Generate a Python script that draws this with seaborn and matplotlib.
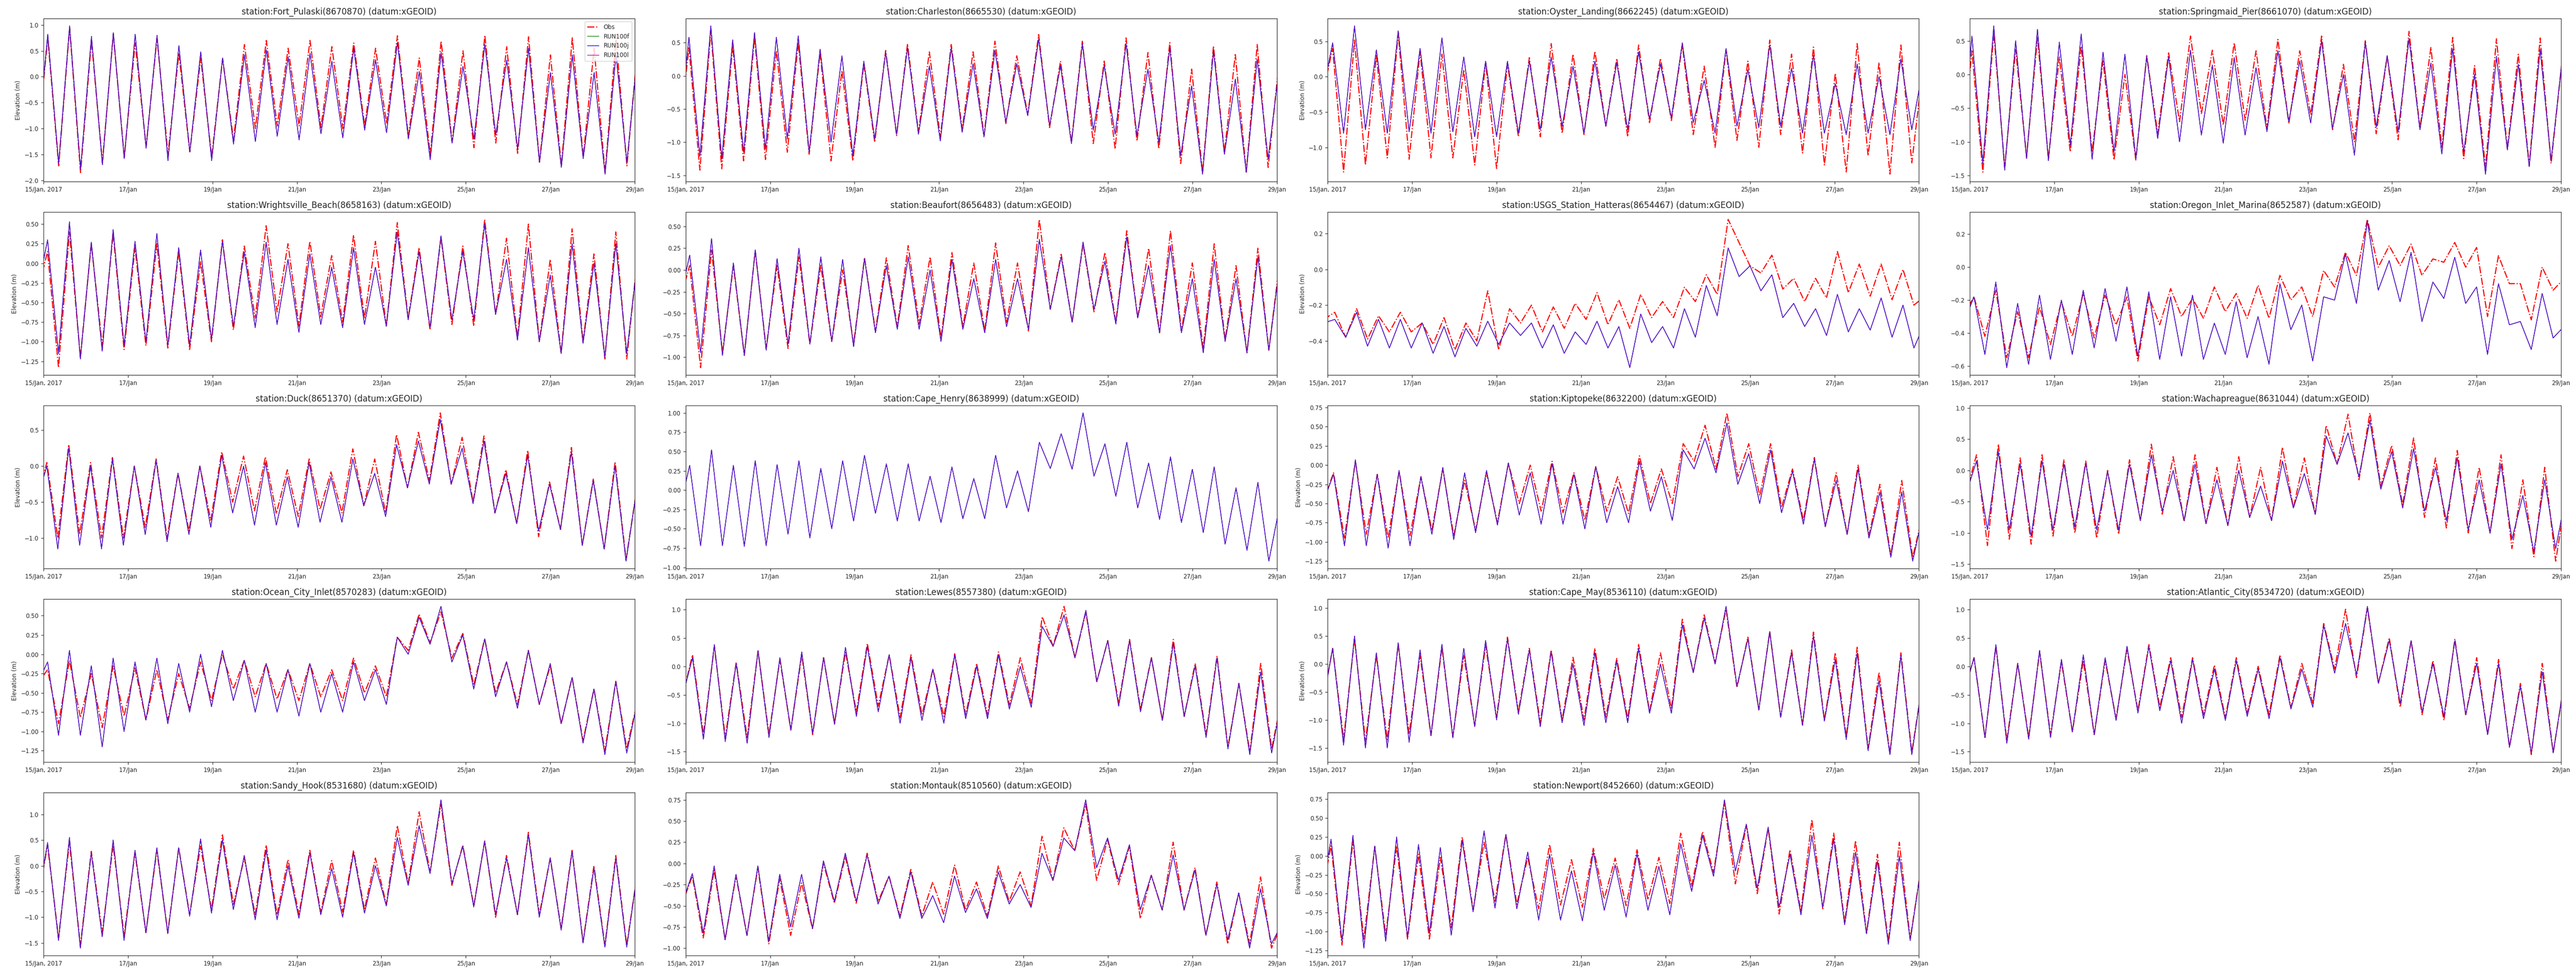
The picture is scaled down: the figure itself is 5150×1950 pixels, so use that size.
import numpy as np
import pandas as pd
import matplotlib
matplotlib.use("Agg")
import matplotlib.pyplot as plt
import seaborn as sns

# Tide gauge comparison, 15-29 Jan 2017.
# Each series is stored as its successive tidal extremes (low, high, low, high ...),
# one value every half tidal cycle, starting with the low just before the first high.

stations = ["Fort_Pulaski", "Charleston", "Oyster_Landing", "Springmaid_Pier",
            "Wrightsville_Beach", "Beaufort", "USGS_Station_Hatteras", "Oregon_Inlet_Marina",
            "Duck", "Cape_Henry", "Kiptopeke", "Wachapreague",
            "Ocean_City_Inlet", "Lewes", "Cape_May", "Atlantic_City",
            "Sandy_Hook", "Montauk", "Newport"]
station_ids = ["8670870", "8665530", "8662245", "8661070",
               "8658163", "8656483", "8654467", "8652587",
               "8651370", "8638999", "8632200", "8631044",
               "8570283", "8557380", "8536110", "8534720",
               "8531680", "8510560", "8452660"]
# hour (after 15/Jan 00:00) of the first high water in each panel
first_high = [2.4, 1.9, 2.8, 1.2, 2.3, 2.3, 4.0, 2.35, 1.9, 2.3,
              3.3, 3.8, 2.3, 3.9, 2.8, 2.4, 2.3, 3.8, 1.9]
HALF_TIDE = 6.21  # hours between a low and the next high

tick_labels = ["15/Jan, 2017", "17/Jan", "19/Jan", "21/Jan", "23/Jan", "25/Jan", "27/Jan", "29/Jan"]
legend_names = ["Obs", "RUN100f", "RUN100j", "RUN100l"]

fort_pulaski_obs = [-1.40, 0.75, -1.72, 0.95, -1.85, 0.70, -1.65, 0.82, -1.55, 0.65, -1.35, 0.75, -1.50, 0.45,
                    -1.45, 0.36, -1.55, 0.35, -1.22, 0.62, -1.00, 0.70, -0.95, 0.55, -0.95, 0.70, -0.98, 0.58,
                    -1.00, 0.65, -0.95, 0.55, -0.90, 0.79, -1.15, 0.36, -1.50, 0.69, -1.25, 0.50, -1.37, 0.80,
                    -1.28, 0.58, -1.48, 0.77, -1.65, 0.42, -1.72, 0.75, -1.55, 0.55, -1.85, 0.72, -1.72, 0.60]
fort_pulaski_run = [-1.40, 0.82, -1.68, 0.98, -1.78, 0.78, -1.70, 0.85, -1.58, 0.82, -1.38, 0.80, -1.62, 0.60,
                    -1.45, 0.48, -1.62, 0.36, -1.30, 0.42, -1.25, 0.52, -1.15, 0.38, -1.22, 0.45, -1.10, 0.30,
                    -1.18, 0.55, -1.03, 0.33, -1.08, 0.66, -1.20, 0.10, -1.60, 0.47, -1.28, 0.20, -1.20, 0.62,
                    -1.12, 0.32, -1.40, 0.55, -1.65, 0.08, -1.75, 0.42, -1.58, 0.08, -1.88, 0.43, -1.65, 0.50]

charleston_obs = [-1.00, 0.42, -1.42, 0.68, -1.40, 0.45, -1.28, 0.58, -1.26, 0.38, -1.15, 0.50, -1.18, 0.35,
                  -1.28, 0.08, -1.28, 0.18, -1.00, 0.38, -0.90, 0.48, -0.85, 0.36, -0.92, 0.47, -0.80, 0.36,
                  -0.90, 0.52, -0.72, 0.30, -0.58, 0.62, -0.78, 0.22, -1.00, 0.52, -1.02, 0.22, -1.10, 0.57,
                  -0.98, 0.35, -1.10, 0.50, -1.32, 0.10, -1.45, 0.45, -1.15, 0.32, -1.45, 0.47, -1.38, 0.20]
charleston_run = [-1.00, 0.58, -1.21, 0.75, -1.25, 0.54, -1.15, 0.65, -1.10, 0.58, -0.95, 0.60, -1.15, 0.40,
                  -1.00, 0.30, -1.20, 0.22, -0.95, 0.35, -0.88, 0.42, -0.88, 0.15, -0.98, 0.42, -0.85, 0.18,
                  -0.92, 0.38, -0.70, 0.18, -0.60, 0.55, -0.75, 0.15, -1.02, 0.48, -0.82, 0.15, -0.88, 0.48,
                  -0.90, 0.10, -1.00, 0.42, -1.20, -0.15, -1.48, 0.38, -1.18, -0.05, -1.45, 0.25, -1.25, 0.10]

oyster_landing_obs = [-0.30, 0.40, -1.35, 0.52, -1.25, 0.30, -1.15, 0.62, -1.17, 0.35, -1.15, 0.32, -1.15, 0.10,
                      -1.25, 0.20, -1.30, 0.18, -0.85, 0.27, -0.85, 0.47, -0.80, 0.32, -0.82, 0.36, -0.70, 0.26,
                      -0.85, 0.45, -0.65, 0.26, -0.62, 0.45, -0.82, 0.15, -1.00, 0.38, -0.90, 0.22, -1.00, 0.52,
                      -0.82, 0.32, -1.08, 0.42, -1.25, 0.05, -1.35, 0.47, -1.12, 0.20, -1.38, 0.45, -1.22, 0.10]
oyster_landing_run = [-0.30, 0.48, -0.80, 0.72, -0.75, 0.38, -0.80, 0.65, -0.78, 0.40, -0.80, 0.55, -0.78, 0.28,
                      -0.85, 0.22, -0.85, 0.22, -0.80, 0.22, -0.75, 0.28, -0.70, 0.15, -0.80, 0.22, -0.70, 0.20,
                      -0.75, 0.35, -0.60, 0.18, -0.58, 0.48, -0.65, -0.05, -0.80, 0.40, -0.70, 0.10, -0.72, 0.45,
                      -0.70, 0.12, -0.80, 0.30, -0.80, -0.10, -0.82, 0.18, -0.80, 0.00, -0.82, 0.25, -0.75, 0.10]

springmaid_pier_obs = [-1.30, 0.35, -1.45, 0.62, -1.38, 0.37, -1.22, 0.55, -1.25, 0.26, -1.15, 0.42, -1.15, 0.20,
                       -1.27, 0.00, -1.27, 0.28, -0.88, 0.32, -0.70, 0.57, -0.58, 0.36, -0.75, 0.47, -0.68, 0.35,
                       -0.80, 0.52, -0.73, 0.35, -0.60, 0.57, -0.82, 0.15, -1.00, 0.50, -0.88, 0.27, -0.97, 0.64,
                       -0.80, 0.40, -1.08, 0.55, -1.25, 0.13, -1.38, 0.53, -1.10, 0.30, -1.35, 0.54, -1.32, 0.20]
springmaid_pier_run = [-1.30, 0.57, -1.32, 0.72, -1.42, 0.50, -1.25, 0.67, -1.28, 0.48, -1.05, 0.60, -1.26, 0.33,
                       -1.15, 0.30, -1.25, 0.27, -0.95, 0.26, -1.00, 0.36, -0.90, 0.14, -1.02, 0.25, -0.90, 0.10,
                       -0.85, 0.35, -0.70, 0.20, -0.72, 0.50, -0.80, 0.00, -1.20, 0.48, -0.78, 0.28, -0.85, 0.53,
                       -0.82, 0.17, -1.18, 0.38, -1.15, 0.00, -1.48, 0.27, -1.12, 0.15, -1.37, 0.37, -1.28, 0.20]

wrightsville_obs = [-0.40, 0.15, -1.33, 0.40, -1.20, 0.25, -1.05, 0.38, -1.10, 0.20, -1.05, 0.25, -1.08, 0.15,
                    -1.10, 0.02, -1.00, 0.30, -0.85, 0.22, -0.70, 0.48, -0.62, 0.25, -0.80, 0.28, -0.68, 0.10,
                    -0.75, 0.36, -0.70, 0.28, -0.80, 0.52, -0.70, 0.20, -0.85, 0.33, -0.78, 0.22, -0.80, 0.56,
                    -0.65, 0.32, -0.95, 0.50, -1.00, 0.05, -1.15, 0.44, -1.00, 0.12, -1.22, 0.40, -1.22, 0.10]
wrightsville_run = [-0.40, 0.30, -1.15, 0.53, -1.22, 0.27, -1.12, 0.43, -1.05, 0.28, -1.00, 0.38, -1.05, 0.20,
                    -1.05, 0.17, -0.97, 0.28, -0.80, 0.14, -0.82, 0.27, -0.78, 0.05, -0.88, 0.12, -0.78, -0.05,
                    -0.82, 0.20, -0.78, -0.05, -0.80, 0.40, -0.72, 0.15, -0.82, 0.35, -0.72, 0.15, -0.72, 0.50,
                    -0.65, 0.05, -0.98, 0.20, -1.00, -0.15, -1.15, 0.25, -1.02, 0.00, -1.20, 0.25, -1.15, 0.05]

beaufort_obs = [-0.40, 0.05, -1.12, 0.23, -0.95, 0.05, -0.98, 0.22, -0.90, 0.05, -0.90, 0.15, -0.85, 0.05,
                -0.82, 0.00, -0.85, 0.14, -0.70, 0.14, -0.65, 0.28, -0.62, 0.15, -0.78, 0.20, -0.65, 0.08,
                -0.70, 0.31, -0.60, 0.08, -0.70, 0.58, -0.45, 0.18, -0.60, 0.30, -0.48, 0.20, -0.60, 0.45,
                -0.55, 0.25, -0.72, 0.45, -0.70, 0.08, -0.90, 0.30, -0.80, 0.05, -0.95, 0.25, -0.92, 0.10]
beaufort_run = [-0.40, 0.17, -0.95, 0.36, -0.98, 0.08, -0.98, 0.23, -0.92, 0.13, -0.85, 0.25, -0.85, 0.15,
                -0.82, 0.12, -0.88, 0.13, -0.72, 0.05, -0.68, 0.15, -0.68, 0.00, -0.82, 0.12, -0.68, -0.10,
                -0.72, 0.12, -0.65, -0.10, -0.68, 0.35, -0.45, 0.15, -0.60, 0.32, -0.45, 0.10, -0.62, 0.38,
                -0.55, 0.05, -0.72, 0.28, -0.72, -0.10, -0.95, 0.12, -0.82, -0.10, -0.95, 0.15, -0.92, 0.05]

hatteras_obs = [-0.28, -0.24, -0.38, -0.22, -0.39, -0.26, -0.35, -0.24, -0.35, -0.30, -0.42, -0.27, -0.45, -0.30,
                -0.40, -0.12, -0.45, -0.22, -0.30, -0.20, -0.35, -0.21, -0.33, -0.19, -0.28, -0.13, -0.31, -0.17,
                -0.33, -0.14, -0.27, -0.18, -0.27, -0.10, -0.18, -0.03, -0.14, 0.28, 0.15, 0.02, -0.02, 0.08,
                -0.11, -0.05, -0.18, -0.05, -0.16, 0.10, -0.13, 0.03, -0.15, 0.03, -0.17, 0.00, -0.20, -0.15]
hatteras_run = [-0.30, -0.28, -0.38, -0.24, -0.43, -0.28, -0.44, -0.28, -0.44, -0.30, -0.47, -0.32, -0.49, -0.33,
                -0.43, -0.29, -0.42, -0.30, -0.37, -0.30, -0.44, -0.31, -0.47, -0.35, -0.42, -0.29, -0.44, -0.32,
                -0.55, -0.25, -0.41, -0.32, -0.44, -0.22, -0.38, -0.09, -0.26, 0.12, -0.04, 0.02, -0.12, -0.03,
                -0.27, -0.19, -0.32, -0.22, -0.37, -0.14, -0.35, -0.22, -0.34, -0.16, -0.38, -0.20, -0.44, -0.30]

oregon_inlet_obs = [-0.30, -0.18, -0.42, -0.14, -0.55, -0.27, -0.55, -0.24, -0.47, -0.21, -0.42, -0.16, -0.43, -0.17,
                    -0.35, -0.18, -0.57, -0.18, -0.35, -0.13, -0.30, -0.19, -0.31, -0.12, -0.27, -0.16, -0.31, -0.11,
                    -0.31, -0.05, -0.20, -0.12, -0.30, -0.02, -0.12, 0.09, -0.05, 0.29, 0.00, 0.13, 0.01, 0.14,
                    -0.05, 0.05, 0.03, 0.15, 0.00, 0.12, -0.30, 0.07, -0.10, -0.10, -0.32, 0.00, -0.14, -0.07]
oregon_inlet_run = [-0.35, -0.18, -0.53, -0.09, -0.61, -0.22, -0.59, -0.17, -0.56, -0.20, -0.53, -0.14, -0.49, -0.13,
                    -0.45, -0.12, -0.54, -0.15, -0.56, -0.18, -0.54, -0.17, -0.56, -0.34, -0.53, -0.21, -0.55, -0.30,
                    -0.59, -0.10, -0.38, -0.23, -0.57, -0.18, -0.20, 0.08, -0.22, 0.28, -0.14, 0.04, -0.21, 0.09,
                    -0.33, -0.09, -0.19, 0.06, -0.22, -0.12, -0.53, -0.10, -0.35, -0.33, -0.50, -0.16, -0.43, -0.36]

duck_obs = [-0.50, 0.05, -1.00, 0.30, -0.95, 0.05, -1.00, 0.12, -1.00, 0.00, -0.85, 0.10, -1.00, -0.10,
            -0.90, 0.00, -0.75, 0.20, -0.50, 0.14, -0.62, 0.13, -0.66, -0.05, -0.70, 0.10, -0.60, -0.08,
            -0.65, 0.24, -0.55, 0.10, -0.65, 0.44, -0.30, 0.47, -0.20, 0.74, -0.25, 0.40, -0.50, 0.42,
            -0.65, -0.05, -0.80, 0.22, -0.98, -0.22, -0.88, 0.26, -1.10, -0.18, -1.15, 0.06, -1.30, -0.30]
duck_run = [-0.50, 0.00, -1.15, 0.25, -1.10, 0.00, -1.15, 0.10, -1.10, 0.00, -0.95, 0.08, -1.05, -0.10,
            -0.95, 0.00, -0.85, 0.15, -0.65, 0.00, -0.82, 0.05, -0.82, -0.15, -0.85, 0.05, -0.78, -0.15,
            -0.78, 0.10, -0.55, -0.10, -0.70, 0.30, -0.30, 0.35, -0.25, 0.65, -0.25, 0.25, -0.52, 0.35,
            -0.65, -0.10, -0.80, 0.15, -0.90, -0.25, -0.88, 0.20, -1.10, -0.20, -1.15, 0.00, -1.32, -0.30]

cape_henry_obs = []  # no observations plotted at this station
cape_henry_run = [-0.30, 0.32, -0.72, 0.52, -0.72, 0.32, -0.73, 0.38, -0.72, 0.33, -0.57, 0.38, -0.62, 0.28,
                  -0.50, 0.38, -0.40, 0.45, -0.30, 0.34, -0.40, 0.34, -0.40, 0.18, -0.42, 0.30, -0.37, 0.15,
                  -0.37, 0.45, -0.23, 0.25, -0.28, 0.62, 0.28, 0.73, 0.27, 1.00, 0.18, 0.60, -0.08, 0.62,
                  -0.23, 0.35, -0.38, 0.43, -0.42, 0.27, -0.55, 0.30, -0.70, 0.03, -0.78, 0.10, -0.92, -0.20]

kiptopeke_obs = [-0.50, -0.10, -0.95, 0.05, -0.90, -0.12, -0.95, -0.08, -0.92, -0.15, -0.85, -0.05, -0.92, -0.20,
                 -0.85, -0.10, -0.75, 0.02, -0.50, 0.00, -0.60, 0.05, -0.62, -0.10, -0.72, -0.02, -0.60, -0.15,
                 -0.63, 0.12, -0.50, -0.05, -0.50, 0.28, 0.05, 0.52, -0.05, 0.68, -0.15, 0.28, -0.40, 0.28,
                 -0.55, -0.05, -0.72, 0.10, -0.80, -0.10, -0.90, 0.00, -0.92, -0.25, -1.18, -0.20, -1.20, -0.60]
kiptopeke_run = [-0.50, -0.12, -1.05, 0.07, -1.05, -0.12, -1.08, -0.07, -1.05, -0.15, -0.90, -0.03, -0.97, -0.10,
                 -0.88, -0.07, -0.78, 0.03, -0.65, -0.10, -0.77, 0.02, -0.77, -0.12, -0.83, -0.02, -0.75, -0.28,
                 -0.75, 0.05, -0.60, -0.15, -0.72, 0.20, -0.05, 0.35, -0.10, 0.55, -0.25, 0.15, -0.50, 0.20,
                 -0.62, -0.08, -0.77, 0.08, -0.80, -0.20, -0.90, -0.05, -0.95, -0.35, -1.20, -0.35, -1.25, -0.60]

wachapreague_obs = [-0.40, 0.25, -1.20, 0.42, -1.10, 0.20, -1.18, 0.25, -1.05, 0.17, -1.00, 0.15, -1.08, 0.00,
                    -1.02, 0.17, -0.80, 0.42, -0.70, 0.22, -0.82, 0.25, -0.85, 0.05, -0.88, 0.22, -0.75, 0.05,
                    -0.80, 0.37, -0.60, 0.20, -0.70, 0.72, 0.10, 0.90, -0.15, 0.92, -0.25, 0.40, -0.55, 0.52,
                    -0.75, 0.20, -0.92, 0.32, -1.00, 0.05, -1.00, 0.25, -1.25, -0.15, -1.38, 0.05, -1.45, -0.35]
wachapreague_run = [-0.40, 0.15, -0.95, 0.30, -0.95, 0.10, -1.05, 0.15, -0.95, 0.10, -0.90, 0.12, -0.95, -0.02,
                    -0.95, 0.10, -0.80, 0.25, -0.65, 0.00, -0.80, 0.10, -0.85, -0.15, -0.88, 0.00, -0.75, -0.25,
                    -0.80, 0.15, -0.60, -0.05, -0.70, 0.55, 0.10, 0.60, -0.10, 0.80, -0.30, 0.30, -0.60, 0.35,
                    -0.65, 0.05, -0.80, 0.20, -0.95, -0.15, -1.00, 0.10, -1.10, -0.40, -1.30, -0.15, -1.25, -0.35]

ocean_city_obs = [-0.40, -0.20, -0.90, -0.08, -0.82, -0.25, -0.95, -0.15, -0.80, -0.18, -0.85, -0.20, -0.85, -0.25,
                  -0.70, -0.10, -0.60, 0.00, -0.45, -0.08, -0.55, -0.12, -0.58, -0.20, -0.60, -0.12, -0.55, -0.20,
                  -0.60, -0.05, -0.50, -0.15, -0.55, 0.22, 0.05, 0.52, 0.15, 0.55, -0.05, 0.27, -0.40, 0.20,
                  -0.50, -0.10, -0.65, 0.05, -0.65, -0.15, -0.90, -0.30, -1.12, -0.45, -1.25, -0.35, -1.22, -0.60]
ocean_city_run = [-0.40, -0.10, -1.05, 0.05, -1.05, -0.15, -1.20, -0.05, -1.00, -0.10, -0.85, -0.05, -0.90, -0.12,
                  -0.75, 0.00, -0.68, 0.05, -0.60, -0.08, -0.75, -0.12, -0.75, -0.20, -0.80, -0.12, -0.75, -0.25,
                  -0.75, -0.10, -0.60, -0.20, -0.65, 0.22, 0.00, 0.48, 0.13, 0.62, -0.10, 0.25, -0.45, 0.20,
                  -0.55, -0.10, -0.70, 0.05, -0.65, -0.12, -0.90, -0.30, -1.15, -0.45, -1.30, -0.35, -1.28, -0.60]

lewes_obs = [-0.60, 0.20, -1.20, 0.35, -1.25, 0.07, -1.25, 0.27, -1.20, 0.12, -1.12, 0.20, -1.20, 0.15,
             -1.00, 0.25, -0.80, 0.40, -0.70, 0.20, -0.90, 0.20, -0.85, -0.05, -0.88, 0.22, -0.85, 0.05,
             -0.85, 0.25, -0.68, 0.15, -0.65, 0.87, 0.35, 1.05, 0.15, 0.95, -0.27, 0.45, -0.65, 0.47,
             -0.75, 0.15, -0.95, 0.47, -0.88, 0.05, -1.20, 0.18, -1.42, -0.30, -1.50, 0.05, -1.45, -0.50]
lewes_run = [-0.60, 0.15, -1.28, 0.38, -1.32, 0.05, -1.35, 0.27, -1.25, 0.15, -1.12, 0.25, -1.18, 0.15,
             -1.02, 0.33, -0.88, 0.35, -0.80, 0.20, -1.00, 0.15, -0.95, -0.05, -1.00, 0.20, -0.92, 0.00,
             -0.92, 0.20, -0.75, 0.00, -0.72, 0.70, 0.35, 0.90, 0.15, 0.98, -0.27, 0.45, -0.70, 0.45,
             -0.80, 0.15, -0.95, 0.40, -0.88, 0.00, -1.25, 0.15, -1.45, -0.30, -1.55, -0.10, -1.52, -0.50]

cape_may_obs = [-0.80, 0.28, -1.35, 0.45, -1.38, 0.15, -1.35, 0.35, -1.25, 0.15, -1.28, 0.30, -1.30, 0.15,
                -1.10, 0.33, -0.95, 0.48, -0.85, 0.28, -1.05, 0.25, -1.00, 0.12, -1.00, 0.28, -0.95, 0.10,
                -0.98, 0.35, -0.85, 0.20, -0.80, 0.80, -0.15, 0.88, 0.02, 0.98, -0.42, 0.48, -0.82, 0.58,
                -0.95, 0.25, -1.08, 0.57, -1.00, 0.20, -1.30, 0.30, -1.52, -0.15, -1.60, 0.20, -1.58, -0.30]
cape_may_run = [-0.80, 0.28, -1.45, 0.50, -1.50, 0.20, -1.50, 0.38, -1.40, 0.25, -1.28, 0.35, -1.32, 0.28,
                -1.12, 0.42, -1.00, 0.45, -0.90, 0.25, -1.12, 0.22, -1.05, 0.00, -1.10, 0.20, -1.05, 0.05,
                -1.05, 0.28, -0.88, 0.00, -0.88, 0.70, -0.15, 0.82, 0.00, 1.03, -0.40, 0.45, -0.82, 0.58,
                -0.95, 0.20, -1.10, 0.50, -1.02, 0.08, -1.35, 0.20, -1.55, -0.30, -1.62, 0.15, -1.62, -0.30]

atlantic_city_obs = [-0.50, 0.15, -1.25, 0.35, -1.30, 0.05, -1.25, 0.25, -1.20, 0.08, -1.15, 0.10, -1.20, 0.10,
                     -0.92, 0.30, -0.78, 0.38, -0.72, 0.15, -0.90, 0.15, -0.85, 0.02, -0.90, 0.15, -0.82, 0.00,
                     -0.85, 0.20, -0.72, 0.05, -0.65, 0.75, -0.05, 1.00, -0.20, 1.03, -0.30, 0.50, -0.72, 0.45,
                     -0.85, 0.10, -0.95, 0.48, -0.85, 0.15, -1.20, 0.12, -1.42, -0.30, -1.55, 0.05, -1.52, -0.30]
atlantic_city_run = [-0.50, 0.15, -1.25, 0.38, -1.35, 0.05, -1.28, 0.28, -1.25, 0.12, -1.15, 0.20, -1.20, 0.15,
                     -0.95, 0.35, -0.82, 0.35, -0.78, 0.10, -1.00, 0.12, -0.92, -0.05, -0.95, 0.10, -0.88, -0.05,
                     -0.92, 0.15, -0.75, -0.05, -0.72, 0.72, -0.12, 0.75, -0.15, 1.05, -0.30, 0.45, -0.65, 0.45,
                     -0.80, 0.05, -0.88, 0.45, -0.85, 0.05, -1.20, 0.05, -1.42, -0.35, -1.52, -0.10, -1.52, -0.30]

sandy_hook_obs = [-0.80, 0.40, -1.40, 0.45, -1.55, 0.28, -1.30, 0.40, -1.35, 0.25, -1.30, 0.30, -1.30, 0.35,
                  -0.95, 0.38, -0.85, 0.60, -0.75, 0.15, -0.95, 0.40, -0.95, 0.12, -0.95, 0.30, -0.90, 0.10,
                  -0.90, 0.30, -0.85, 0.15, -0.75, 0.78, -0.35, 1.05, -0.12, 1.20, -0.38, 0.40, -0.78, 0.48,
                  -1.00, 0.20, -0.95, 0.65, -0.95, 0.15, -1.22, 0.30, -1.48, 0.00, -1.55, 0.20, -1.55, -0.10]
sandy_hook_run = [-0.80, 0.45, -1.45, 0.55, -1.60, 0.25, -1.38, 0.50, -1.45, 0.30, -1.30, 0.35, -1.32, 0.35,
                  -0.98, 0.52, -0.92, 0.50, -0.85, 0.20, -1.05, 0.30, -1.05, 0.00, -1.02, 0.25, -0.95, -0.05,
                  -1.00, 0.25, -0.92, 0.00, -0.78, 0.55, -0.38, 0.78, -0.15, 1.28, -0.35, 0.38, -0.80, 0.48,
                  -0.95, 0.15, -0.95, 0.60, -1.00, 0.15, -1.25, 0.28, -1.50, -0.05, -1.58, 0.15, -1.58, -0.10]

montauk_obs = [-0.50, -0.15, -0.88, -0.08, -0.90, -0.15, -0.85, -0.05, -0.95, -0.18, -0.85, -0.23, -0.77, 0.00,
               -0.47, 0.08, -0.47, 0.12, -0.45, -0.15, -0.62, -0.07, -0.62, -0.22, -0.60, -0.02, -0.55, -0.22,
               -0.62, -0.03, -0.45, -0.10, -0.50, 0.32, -0.20, 0.42, 0.15, 0.70, -0.20, 0.28, -0.25, 0.20,
               -0.65, -0.14, -0.55, 0.25, -0.55, -0.05, -0.85, -0.22, -0.95, -0.35, -0.95, -0.16, -1.00, -0.70]
montauk_run = [-0.50, -0.12, -0.82, -0.03, -0.90, -0.13, -0.85, -0.03, -0.92, -0.13, -0.75, -0.13, -0.77, 0.03,
               -0.45, 0.12, -0.45, 0.10, -0.48, -0.15, -0.65, -0.10, -0.65, -0.38, -0.70, -0.15, -0.58, -0.30,
               -0.65, -0.10, -0.48, -0.25, -0.52, 0.12, -0.20, 0.30, 0.15, 0.75, -0.05, 0.30, -0.20, 0.22,
               -0.55, -0.14, -0.55, 0.10, -0.55, -0.08, -0.85, -0.25, -0.90, -0.35, -1.00, -0.30, -0.95, -0.70]

newport_obs = [-0.60, 0.13, -1.18, 0.20, -1.10, 0.12, -1.05, 0.13, -1.10, 0.02, -1.10, -0.02, -0.95, 0.25,
               -0.72, 0.18, -0.60, 0.28, -0.64, -0.02, -0.70, 0.15, -0.65, -0.05, -0.68, 0.10, -0.57, -0.03,
               -0.66, 0.08, -0.58, -0.02, -0.63, 0.30, -0.40, 0.32, -0.22, 0.70, -0.37, 0.40, -0.50, 0.37,
               -0.77, 0.08, -0.74, 0.48, -0.70, 0.30, -0.88, 0.20, -1.02, 0.02, -1.14, 0.18, -1.10, -0.15]
newport_run = [-0.60, 0.22, -1.13, 0.27, -1.22, 0.13, -1.13, 0.25, -1.08, 0.15, -1.02, 0.11, -1.05, 0.20,
               -0.74, 0.33, -0.69, 0.28, -0.70, 0.05, -0.85, 0.02, -0.85, -0.20, -0.86, 0.05, -0.72, -0.12,
               -0.81, 0.03, -0.72, -0.14, -0.78, 0.16, -0.47, 0.27, -0.27, 0.74, -0.20, 0.42, -0.43, 0.38,
               -0.68, 0.02, -0.78, 0.27, -0.68, 0.22, -0.91, 0.05, -1.03, -0.07, -1.17, 0.00, -1.12, -0.15]

obs_series = [fort_pulaski_obs, charleston_obs, oyster_landing_obs, springmaid_pier_obs,
              wrightsville_obs, beaufort_obs, hatteras_obs, oregon_inlet_obs,
              duck_obs, cape_henry_obs, kiptopeke_obs, wachapreague_obs,
              ocean_city_obs, lewes_obs, cape_may_obs, atlantic_city_obs,
              sandy_hook_obs, montauk_obs, newport_obs]
# RUN100f, RUN100j and RUN100l coincide within a line width at this scale
run_series = [fort_pulaski_run, charleston_run, oyster_landing_run, springmaid_pier_run,
              wrightsville_run, beaufort_run, hatteras_run, oregon_inlet_run,
              duck_run, cape_henry_run, kiptopeke_run, wachapreague_run,
              ocean_city_run, lewes_run, cape_may_run, atlantic_city_run,
              sandy_hook_run, montauk_run, newport_run]


def event_times(first_hour, n):
    """Timestamps of n successive half-tide extremes, starting one half-tide before first_hour."""
    start = pd.Timestamp("2017-01-15") + pd.Timedelta(hours=first_hour - HALF_TIDE)
    return pd.date_range(start, periods=n, freq=pd.Timedelta(hours=HALF_TIDE))


sns.set_style("ticks")
plt.rcParams["font.family"] = ["DejaVu Sans"]
plt.rcParams["xtick.labelsize"] = 8.5
plt.rcParams["ytick.labelsize"] = 8.5

fig, axes = plt.subplots(5, 4, figsize=(51.5, 19.5), dpi=100)
fig.subplots_adjust(left=0.0169, right=0.9942, top=0.981, bottom=0.020, wspace=0.086, hspace=0.187)

t_start = pd.Timestamp("2017-01-15")
t_end = pd.Timestamp("2017-01-29")
tick_pos = pd.date_range(t_start, t_end, freq="2D")

for i, ax in enumerate(axes.flat):
    if i >= len(stations):
        ax.axis("off")
        continue

    obs = obs_series[i]
    run = run_series[i]

    if len(obs):
        sns.lineplot(x=event_times(first_high[i], len(obs)), y=obs, ax=ax, color="red",
                     linestyle="-.", linewidth=1.6, label=legend_names[0])
    t_run = event_times(first_high[i], len(run))
    sns.lineplot(x=t_run, y=run, ax=ax, color="green", linewidth=0.9, label=legend_names[1])
    sns.lineplot(x=t_run, y=run, ax=ax, color="blue", linewidth=0.9, label=legend_names[2])
    sns.lineplot(x=t_run, y=run, ax=ax, color="m", linewidth=0.9, alpha=0.55, label=legend_names[3])

    ax.set_xlim(t_start, t_end)
    ax.set_xticks(tick_pos)
    ax.set_xticklabels(tick_labels)
    ax.set_xlabel("")
    ax.set_title(f"station:{stations[i]}({station_ids[i]}) (datum:xGEOID)", fontsize=12)
    if i % 4 in (0, 2):
        ax.set_ylabel("Elevation (m)", fontsize=8.5)
    else:
        ax.set_ylabel("")

    if i == 0:
        leg = ax.legend(loc="upper right", fontsize=8.5, frameon=True)
        for line in leg.get_lines():
            line.set_alpha(1)
    elif ax.get_legend() is not None:
        ax.get_legend().remove()

fig.savefig("out.png", dpi=100)
